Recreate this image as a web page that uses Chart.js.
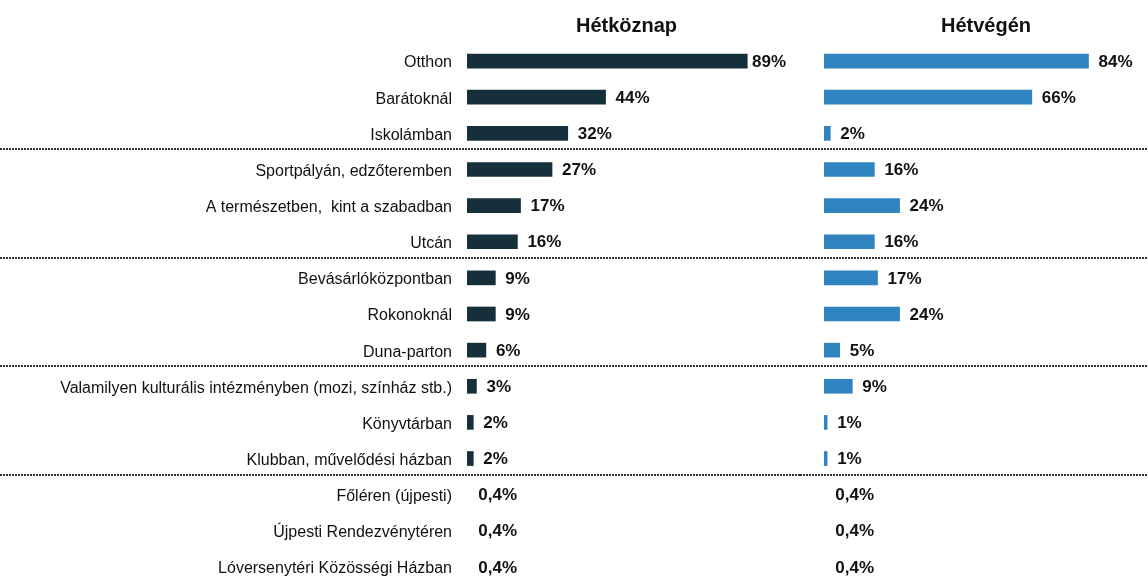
<!DOCTYPE html>
<html><head><meta charset="utf-8">
<script src="https://cdn.jsdelivr.net/npm/chart.js@4/dist/chart.umd.min.js"></script>
<style>
html,body{margin:0;padding:0;background:#fff;overflow:hidden;width:1148px;height:576px;}
#wrap{position:relative;width:1148px;height:592px;}
#c1{position:absolute;left:0;top:0;}
#c2{position:absolute;left:800px;top:0;}
</style></head><body>
<div id="wrap">
<canvas id="c1" width="800" height="592"></canvas>
<canvas id="c2" width="348" height="592"></canvas>
</div>
<script>
const categories = [
  "Otthon","Barátoknál","Iskolámban",
  "Sportpályán, edzőteremben","A természetben,  kint a szabadban","Utcán",
  "Bevásárlóközpontban","Rokonoknál","Duna-parton",
  "Valamilyen kulturális intézményben (mozi, színház stb.)","Könyvtárban","Klubban, művelődési házban",
  "Főléren (újpesti)","Újpesti Rendezvénytéren","Lóversenytéri Közösségi Házban"
];
const weekday = [89,44,32,27,17,16,9,9,6,3,2,2,0.4,0.4,0.4];
const weekend = [84,66,2,16,24,16,17,24,5,9,1,1,0.4,0.4,0.4];
const titles = ["Hétköznap","Hétvégén"];
const groupSize = 3;

function fmt(v){ return (Number.isInteger(v) ? String(v) : String(v).replace('.', ',')) + '%'; }

const valueLabels = {
  id:'valueLabels',
  afterDatasetsDraw(chart){
    const ctx = chart.ctx, meta = chart.getDatasetMeta(0), ds = chart.data.datasets[0];
    ctx.save();
    ctx.font = 'bold 17px "Liberation Sans", Arial, sans-serif';
    ctx.fillStyle = '#111';
    ctx.textBaseline = 'middle';
    meta.data.forEach((bar,i)=>{
      const t = fmt(ds.data[i]);
      const w = ctx.measureText(t).width;
      let x = bar.x + 10;
      if (x + w > chart.chartArea.right) x = chart.chartArea.right - w;
      ctx.fillText(t, x, bar.y + 1);
    });
    ctx.restore();
  }
};
const separators = {
  id:'separators',
  afterDraw(chart){
    const ctx = chart.ctx, y = chart.scales.y;
    ctx.save();
    ctx.strokeStyle = '#333';
    ctx.lineWidth = 2;
    ctx.setLineDash([2,1]);
    for (let i = groupSize; i < categories.length; i += groupSize){
      const yy = Math.round((y.getPixelForValue(i-1) + y.getPixelForValue(i))/2) - 2;
      ctx.beginPath(); ctx.moveTo(0, yy); ctx.lineTo(chart.width, yy); ctx.stroke();
    }
    ctx.restore();
  }
};

function makeChart(id, data, color, title, showLabels, max, pad){
  return new Chart(document.getElementById(id), {
    type:'bar',
    data:{labels:categories, datasets:[{data,
      backgroundColor:(c)=> (c.raw !== undefined && c.raw < 1) ? 'rgba(0,0,0,0)' : color,
      barThickness:14, borderWidth:0}]},
    options:{
      indexAxis:'y', responsive:false, animation:false,
      layout:{padding:pad},
      plugins:{
        legend:{display:false}, tooltip:{enabled:false},
        title:{display:true, text:title, fullSize:false, color:'#111',
          font:{family:'"Liberation Sans", Arial, sans-serif', size:20, weight:'bold'},
          padding:{top:14,bottom:5}}
      },
      scales:{
        x:{display:false, min:0, max},
        y:{
          display:true,
          grid:{display:false, drawTicks:false}, border:{display:false},
          ticks:{display:showLabels, padding:15, color:'#111', labelOffset:2,
            font:{family:'"Liberation Sans Narrow", "Arial Narrow", "Liberation Sans", sans-serif', size:16}},
          afterFit(s){ s.width = showLabels ? 467 : 0; s.paddingTop = 0; s.paddingBottom = 0; }
        }
      }
    },
    plugins:[valueLabels, separators]
  });
}
makeChart('c1', weekday, '#16303b', titles[0], true, 101.3, {left:0,right:14,top:0,bottom:7});
makeChart('c2', weekend, '#2f84bf', titles[1], false, 102.9, {left:24,right:0,top:0,bottom:7});
</script>
</body></html>
